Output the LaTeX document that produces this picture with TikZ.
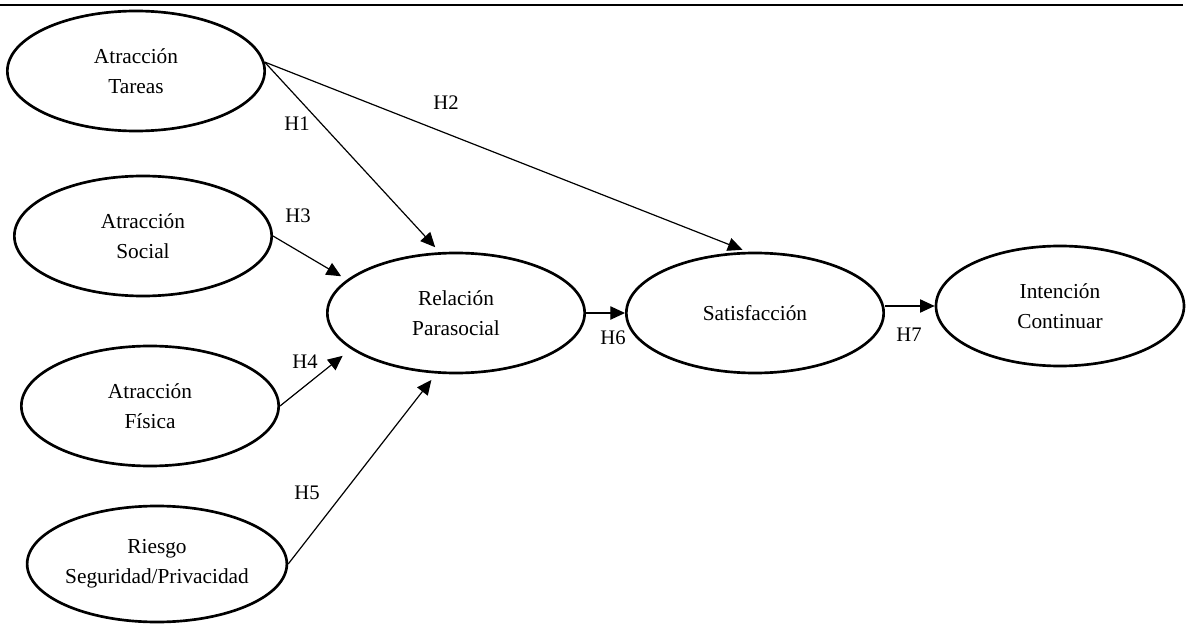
\documentclass[tikz,border=0pt]{standalone}
\usepackage{fontspec}
\setmainfont{Liberation Serif}
\usetikzlibrary{shapes.geometric,arrows.meta}
\begin{document}
\begin{tikzpicture}[x=0.75pt,y=-0.75pt,
  construct/.style={ellipse,draw,line width=2pt,inner sep=0pt,align=center,
    minimum width=193pt,minimum height=90pt,
    font=\fontsize{16}{22.5}\selectfont},
  link/.style={line width=0.9pt,-{Triangle[length=11pt,width=10pt]}},
  hyp/.style={inner sep=0pt,font=\fontsize{15.5}{16}\selectfont}]
\useasboundingbox (0,0) rectangle (1186,624);

% top rule
\draw[line width=2pt] (0,5) -- (1183,5);

% constructs
\node[construct] (tar) at (136,71)  {Atracción\\Tareas};
\node[construct] (soc) at (143,236) {Atracción\\Social};
\node[construct] (fis) at (150,406) {Atracción\\Física};
\node[construct,minimum height=87pt] (rie) at (157,564) {Riesgo\\Seguridad/Privacidad};
\node[construct] (rel) at (456,313) {Relación\\Parasocial};
\node[construct] (sat) at (755,313) {Satisfacción};
\node[construct,minimum width=186pt] (int) at (1060,306) {Intención\\Continuar};

% hypotheses
\draw[link,shorten >=5pt] (tar.4) -- (rel.105);
\draw[link,shorten >=4pt] (tar.4) -- (sat.97);
\draw[link,shorten >=5pt] (soc.east) -- (rel.163);
\draw[link,shorten >=8pt] (fis.east) -- (rel.199);
\draw[link,shorten >=6pt] (rie.east) -- (rel.252);
\draw[link] (rel.east) -- (sat.west);
\draw[link] (sat.east |- int.west) -- (int.west);

% hypothesis labels
\node[hyp] (h1) at (297,124) {H1};
\node[hyp] (h2) at (446,103) {H2};
\node[hyp] (h3) at (298,216) {H3};
\node[hyp] (h4) at (305,362) {H4};
\node[hyp] (h5) at (307,493) {H5};
\node[hyp] (h6) at (613,338) {H6};
\node[hyp] (h7) at (909,335) {H7};
\end{tikzpicture}
\end{document}
